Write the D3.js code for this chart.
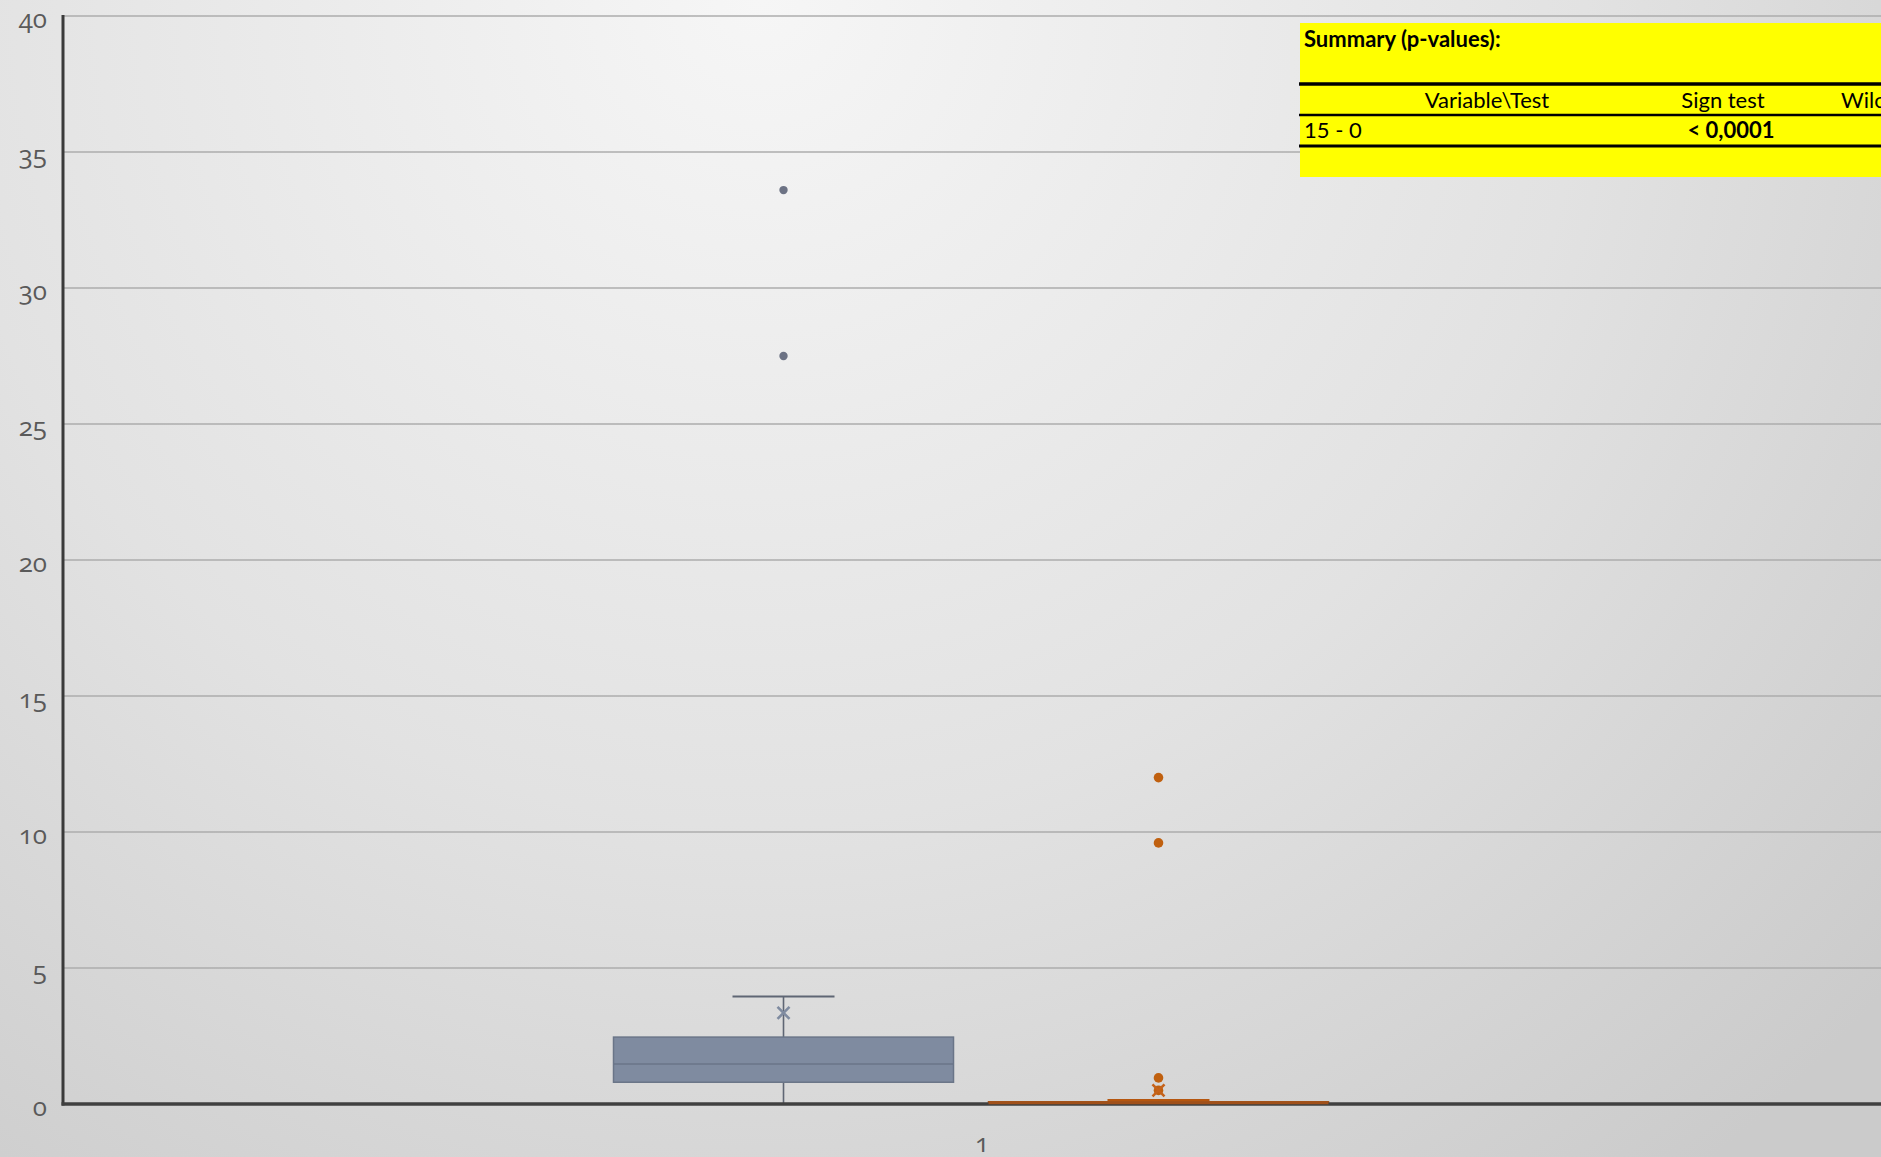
<!DOCTYPE html>
<html>
<head>
<meta charset="utf-8">
<script src="https://cdn.jsdelivr.net/npm/d3@7/dist/d3.min.js"></script>
<style>
  html, body { margin: 0; padding: 0; overflow: hidden; background: #e0e0e0; }
  svg { display: block; }
  .tick-label { font-family: "Open Sans", Lato, sans-serif; font-variant-numeric: oldstyle-nums; font-feature-settings: "onum" 1; fill: #5a5a5a; }
  .tbl { font-family: Lato, "Open Sans", sans-serif; fill: #000; }
</style>
</head>
<body>
<script>
// Categories, series and box-plot statistics
const categories = ["1"];
const seriesNames = ["15", "0"];
const whiskerLow  = [0, 0];
const q1          = [0.8, 0];
const median      = [1.47, 0];
const q3          = [2.46, 0.08];
const whiskerHigh = [3.95, 0.15];
const means       = [3.35, 0.5];
const outliers    = [[33.6, 27.5], [12.0, 9.6, 0.96, 0.5]];
const yTicks = [0, 5, 10, 15, 20, 25, 30, 35, 40];

// Summary table text
const tableTitle = "Summary (p-values):";
const tableHeader = ["Variable\\Test", "Sign test", "Wilcoxon signed-rank test"];
const tableRow = ["15 - 0", "< 0,0001"];

const W = 1881, H = 1157;
const seriesFill   = ["#7f8ba0", "#c5621a"];
const seriesStroke = ["#6a7588", "#a8520f"];
const seriesLine   = ["#5f6674", "#b5560f"];
const outlierFill  = ["#6c7284", "#c0600f"];

const svg = d3.select("body").append("svg").attr("width", W).attr("height", H);

// soft radial background
const defs = svg.append("defs");
const rg = defs.append("radialGradient").attr("id", "bg")
  .attr("gradientUnits", "userSpaceOnUse")
  .attr("cx", 760).attr("cy", 0).attr("r", 1500);
rg.append("stop").attr("offset", 0).attr("stop-color", "#f6f6f6");
rg.append("stop").attr("offset", 0.55).attr("stop-color", "#e2e2e2");
rg.append("stop").attr("offset", 1).attr("stop-color", "#cbcbcb");
svg.append("rect").attr("width", W).attr("height", H).attr("fill", "url(#bg)");

const x0 = 63, yTop = 16, yBase = 1104;
const y = d3.scaleLinear().domain([0, 40]).range([yBase, yTop]);
const xCat = d3.scaleBand().domain(categories).range([x0, 1901]);
// series boxes inside the category band (offset from the band start)
const xSer = d3.scaleBand().domain(seriesNames)
  .range([533, 1283]).paddingInner(0.0933).paddingOuter(0.0467);

// gridlines
svg.append("g").selectAll("line").data(yTicks.filter(t => t > 0)).join("line")
  .attr("x1", x0).attr("x2", W)
  .attr("y1", d => y(d)).attr("y2", d => y(d))
  .attr("stroke", "#adadad").attr("stroke-width", 1.6);

// y axis labels
const yAxis = d3.axisLeft(y).tickValues(yTicks).tickSize(0).tickPadding(16);
const gy = svg.append("g").attr("transform", `translate(${x0},0)`).call(yAxis);
gy.select(".domain").remove();
gy.selectAll("text").attr("class", "tick-label").attr("font-size", 26)
  .attr("dy", "0.45em").attr("fill", "#5a5a5a");

// x axis label
const xAxis = d3.axisBottom(xCat).tickSize(0).tickPadding(30);
const gx = svg.append("g").attr("transform", `translate(0,${yBase})`).call(xAxis);
gx.select(".domain").remove();
gx.selectAll("text").attr("class", "tick-label").attr("font-size", 26).attr("fill", "#5a5a5a");

// box plots
const boxes = svg.append("g");
categories.forEach(c => {
  seriesNames.forEach((s, i) => {
    const bx = xCat(c) + xSer(s);
    const bw = xSer.bandwidth();
    const cx = bx + bw / 2;
    const g = boxes.append("g");
    const capW = bw * 0.3;
    // whiskers
    g.append("line").attr("x1", cx).attr("x2", cx)
      .attr("y1", y(whiskerLow[i])).attr("y2", y(q1[i]))
      .attr("stroke", seriesLine[i]).attr("stroke-width", 1.6);
    g.append("line").attr("x1", cx).attr("x2", cx)
      .attr("y1", y(q3[i])).attr("y2", y(whiskerHigh[i]))
      .attr("stroke", seriesLine[i]).attr("stroke-width", 1.6);
    g.append("line").attr("x1", cx - capW / 2).attr("x2", cx + capW / 2)
      .attr("y1", y(whiskerHigh[i])).attr("y2", y(whiskerHigh[i]))
      .attr("stroke", seriesLine[i]).attr("stroke-width", 2);
    // box
    g.append("rect").attr("x", bx).attr("width", bw)
      .attr("y", y(q3[i])).attr("height", Math.max(y(q1[i]) - y(q3[i]), 1))
      .attr("fill", seriesFill[i]).attr("stroke", seriesStroke[i]).attr("stroke-width", 1.5);
    g.append("line").attr("x1", bx).attr("x2", bx + bw)
      .attr("y1", y(median[i])).attr("y2", y(median[i]))
      .attr("stroke", seriesStroke[i]).attr("stroke-width", 1.6);
    // outliers
    g.selectAll("circle").data(outliers[i]).join("circle")
      .attr("cx", cx).attr("cy", d => y(d)).attr("r", i === 0 ? 4.2 : 4.8)
      .attr("fill", outlierFill[i]);
    // mean marker
    const m = 6;
    const my = y(means[i]);
    g.append("path")
      .attr("d", `M${cx - m},${my - m}L${cx + m},${my + m}M${cx - m},${my + m}L${cx + m},${my - m}`)
      .attr("stroke", seriesFill[i]).attr("stroke-width", 2.6).attr("fill", "none");
  });
});

// axis lines
svg.append("line").attr("x1", x0).attr("x2", x0).attr("y1", yTop - 1).attr("y2", yBase + 1.5)
  .attr("stroke", "#3a3a3a").attr("stroke-width", 3);
svg.append("line").attr("x1", x0 - 1.5).attr("x2", W).attr("y1", yBase).attr("y2", yBase)
  .attr("stroke", "#404040").attr("stroke-width", 3.5);
// orange series baseline sits on top of the axis
{
  const i = 1, s = seriesNames[i];
  const bx = xCat(categories[0]) + xSer(s);
  svg.append("line").attr("x1", bx).attr("x2", bx + xSer.bandwidth())
    .attr("y1", y(q3[i]) + 1).attr("y2", y(q3[i]) + 1)
    .attr("stroke", "#a0501a").attr("stroke-width", 3);
}

// summary table
const tbl = svg.append("g");
tbl.append("rect").attr("x", 1300).attr("y", 23).attr("width", W - 1300).attr("height", 154)
  .attr("fill", "#ffff00");
tbl.append("text").attr("class", "tbl").attr("x", 1304).attr("y", 47)
  .attr("font-size", 22).attr("font-weight", "bold").text(tableTitle);
[[84, 3.5], [115, 2.5], [146, 3.2]].forEach(([ly, sw]) => {
  tbl.append("line").attr("x1", 1299).attr("x2", W).attr("y1", ly).attr("y2", ly)
    .attr("stroke", "#000").attr("stroke-width", sw);
});
tbl.append("text").attr("class", "tbl").attr("x", 1487).attr("y", 108)
  .attr("font-size", 22).attr("text-anchor", "middle").text(tableHeader[0]);
tbl.append("text").attr("class", "tbl").attr("x", 1723).attr("y", 108)
  .attr("font-size", 22).attr("text-anchor", "middle").text(tableHeader[1]);
tbl.append("text").attr("class", "tbl").attr("x", 1841).attr("y", 108)
  .attr("font-size", 22).text(tableHeader[2]);
tbl.append("text").attr("class", "tbl").attr("x", 1304).attr("y", 138)
  .attr("font-size", 22).text(tableRow[0]);
tbl.append("text").attr("class", "tbl").attr("x", 1731).attr("y", 138)
  .attr("font-size", 22).attr("font-weight", "bold").attr("text-anchor", "middle").text(tableRow[1]);
</script>
</body>
</html>
